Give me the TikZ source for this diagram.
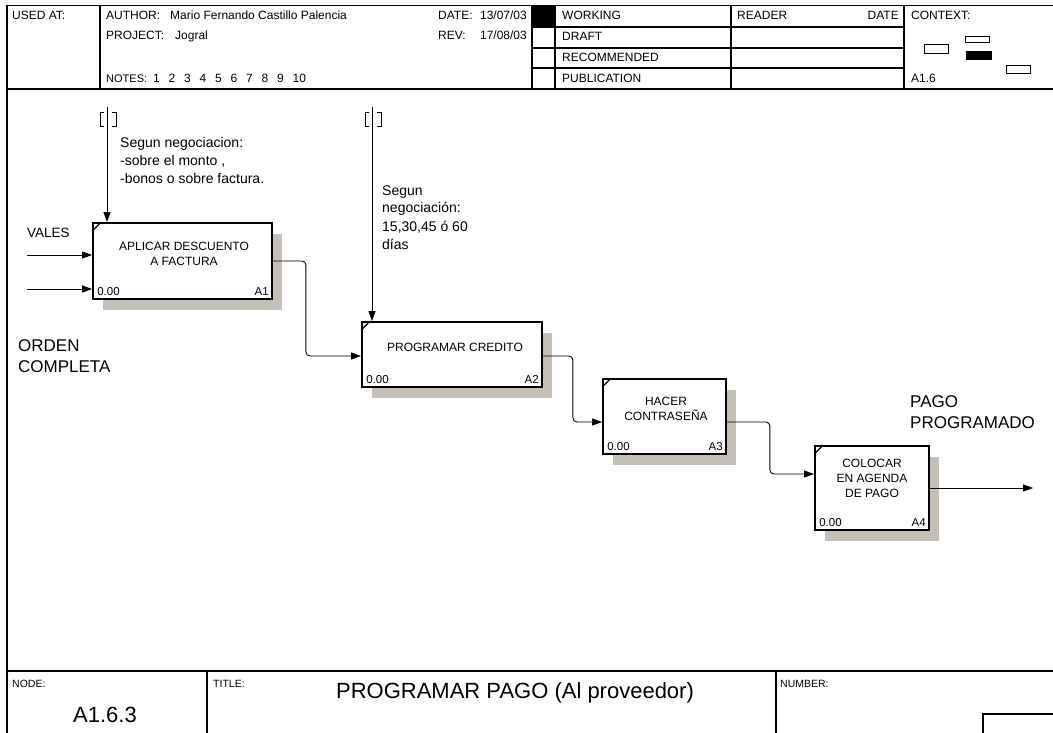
\documentclass[tikz,border=0pt]{standalone}
\usepackage{fontspec}
\setmainfont{Liberation Sans}
\usetikzlibrary{arrows.meta,shadows,calc}
\definecolor{shadegray}{RGB}{196,192,184}
\tikzset{
  rule/.style={line width=1.2pt},
  thinrule/.style={line width=0.9pt},
  hdr/.style={font=\fontsize{12}{14}\selectfont, inner sep=0pt, anchor=base west},
  small/.style={font=\fontsize{10.5}{12}\selectfont, inner sep=0pt, anchor=base west},
  activity/.style={draw, line width=1.8pt, fill=white, inner sep=0pt,
    drop shadow={shadow xshift=10pt, shadow yshift=-10.5pt, opacity=1, fill=shadegray}},
  boxtxt/.style={font=\fontsize{12}{15}\selectfont, align=center, inner sep=0pt, anchor=base},
  boxnum/.style={font=\fontsize{11.5}{13}\selectfont, inner sep=0pt},
  tick/.style={line width=1.2pt},
  flow/.style={line width=0.9pt, rounded corners=4pt, -{Triangle[length=10pt,width=7pt]}},
  note/.style={font=\fontsize{14}{18}\selectfont, align=left, inner sep=0pt, anchor=base west},
  biglbl/.style={font=\fontsize{17}{21}\selectfont, align=left, inner sep=0pt, anchor=base west},
  bracket/.style={line width=0.8pt}
}
\begin{document}
\begin{tikzpicture}[x=1pt,y=-1pt]
\useasboundingbox (0,0) rectangle (1053,733);

% ---------- outer frame and header grid ----------
\draw[rule] (1053,5.5) -- (7,5.5) -- (7,733);
\draw[rule] (7,89) -- (1053,89);
\foreach \xx in {100,532,555,731,904} \draw[rule] (\xx,5.5) -- (\xx,89);
\foreach \yy in {27,48,68} \draw[rule] (532,\yy) -- (904,\yy);
\fill (532,5.5) rectangle (555,27);

\node[hdr] (usedat) at (12,20) {USED AT:};
\node[hdr] (authk) at (106,20) {AUTHOR:};
\node[hdr] (authv) at (170,20) {Mario Fernando Castillo Palencia};
\node[hdr] (projk) at (106,40) {PROJECT:};
\node[hdr] (projv) at (175,40) {Jogral};
\node[hdr, font=\fontsize{11}{13}\selectfont] (notesk) at (106,83) {NOTES:};
\foreach \n [count=\i from 0] in {1,...,10}
  \node[hdr] (note\n) at (153+\i*15.5,83) {\n};
\node[hdr] (datek) at (438,20) {DATE:};
\node[hdr,anchor=base east] (datev) at (527,20) {13/07/03};
\node[hdr] (revk) at (438,40) {REV:};
\node[hdr,anchor=base east] (revv) at (527,40) {17/08/03};
\node[hdr] (working) at (562,20) {WORKING};
\node[hdr] (draft) at (562,41) {DRAFT};
\node[hdr] (recomm) at (562,62) {RECOMMENDED};
\node[hdr] (public) at (562,83) {PUBLICATION};
\node[hdr] (reader) at (737,20) {READER};
\node[hdr,anchor=base east] (rdate) at (899,20) {DATE};
\node[hdr] (context) at (911,20) {CONTEXT:};
\node[hdr] (ctxnode) at (911,83) {A1.6};

% context miniature
\draw[thinrule] (924,44) rectangle (948,53);
\draw[thinrule] (965,36) rectangle (989,42);
\fill (966,51) rectangle (992,60);
\draw[thinrule] (1006,65) rectangle (1030,73);

% ---------- footer ----------
\draw[rule] (7,671) -- (1053,671);
\draw[rule] (207,671) -- (207,733);
\draw[rule] (776,671) -- (776,733);
\draw[rule] (983,733) -- (983,714) -- (1053,714);
\node[small] (nodek) at (12,687) {NODE:};
\node[small] (titlek) at (213,687) {TITLE:};
\node[small] (numk) at (780,687) {NUMBER:};
\node[font=\fontsize{22}{26}\selectfont, inner sep=0pt, anchor=base] (nodev) at (105,722) {A1.6.3};
\node[font=\fontsize{22}{26}\selectfont, inner sep=0pt, anchor=base] (titlev) at (515,698) {PROGRAMAR PAGO (Al proveedor)};

% ---------- activity boxes ----------
\node[activity, minimum width=179pt, minimum height=76pt] (a1) at (182.5,261) {};
\node[activity, minimum width=180pt, minimum height=65pt] (a2) at (452,354.5) {};
\node[activity, minimum width=123pt, minimum height=75pt] (a3) at (664.5,416.5) {};
\node[activity, minimum width=114pt, minimum height=84pt] (a4) at (872,488) {};

\foreach \b/\k in {a1/A1,a2/A2,a3/A3,a4/A4}{
  \draw[tick] ([yshift=-9pt]\b.north west) -- ([xshift=9pt]\b.north west);
  \node[boxnum, anchor=base west] at ([xshift=5pt,yshift=4.5pt]\b.south west) {0.00};
  \node[boxnum, anchor=base east] at ([xshift=-4pt,yshift=4.5pt]\b.south east) {\k};
}
% multi-line labels are anchored on the baseline of their last line
\node[boxtxt] (t1) at (184,265) {APLICAR DESCUENTO\\A FACTURA};
\node[boxtxt] (t2) at (455,351) {PROGRAMAR CREDITO};
\node[boxtxt] (t3) at (666,420) {HACER\\CONTRASEÑA};
\node[boxtxt] (t4) at (872,497) {COLOCAR\\EN AGENDA\\DE PAGO};

% ---------- inputs ----------
\coordinate (in1) at (27,255);
\coordinate (in2) at (27,289);
\draw[flow] (in1) -- (a1.west |- in1);
\draw[flow] (in2) -- (a1.west |- in2);
\node[note, font=\fontsize{13.5}{16}\selectfont] (vales) at (27,237) {VALES};
\node[biglbl] (orden) at (18,372) {ORDEN\\COMPLETA};

% ---------- controls with tunnel brackets ----------
\coordinate (c1) at (107,107);
\coordinate (c2) at (372,107);
\draw[flow] (c1) -- (c1 |- a1.north);
\draw[flow] (c2) -- (c2 |- a2.north);
\foreach \c in {c1,c2}{
  \draw[bracket] ([xshift=-3pt,yshift=-5pt]\c) -- ([xshift=-7pt,yshift=-5pt]\c)
     -- ([xshift=-7pt,yshift=-19pt]\c) -- ([xshift=-3pt,yshift=-19pt]\c);
  \draw[bracket] ([xshift=5pt,yshift=-5pt]\c) -- ([xshift=9pt,yshift=-5pt]\c)
     -- ([xshift=9pt,yshift=-19pt]\c) -- ([xshift=5pt,yshift=-19pt]\c);
}
\node[note] (n1) at (120,184) {Segun negociacion:\\-sobre el monto ,\\-bonos o sobre factura.};
\node[note] (n2) at (382,249) {Segun\\negociación:\\15,30,45 ó 60\\días};

% ---------- flows between activities ----------
\draw[flow] (a1.east) -- ++(33,0) |- ([yshift=-1.5pt]a2.west);
\draw[flow] ([yshift=-1.5pt]a2.east) -- ++(30,0) |- ([yshift=-5.5pt]a3.west);
\draw[flow] ([yshift=-5.5pt]a3.east) -- ++(43,0) |- ([yshift=14pt]a4.west);
\coordinate (out) at (1033,488);
\draw[flow] (a4.east) -- (out);
\node[biglbl] (pago) at (910,428) {PAGO\\PROGRAMADO};

\end{tikzpicture}
\end{document}
